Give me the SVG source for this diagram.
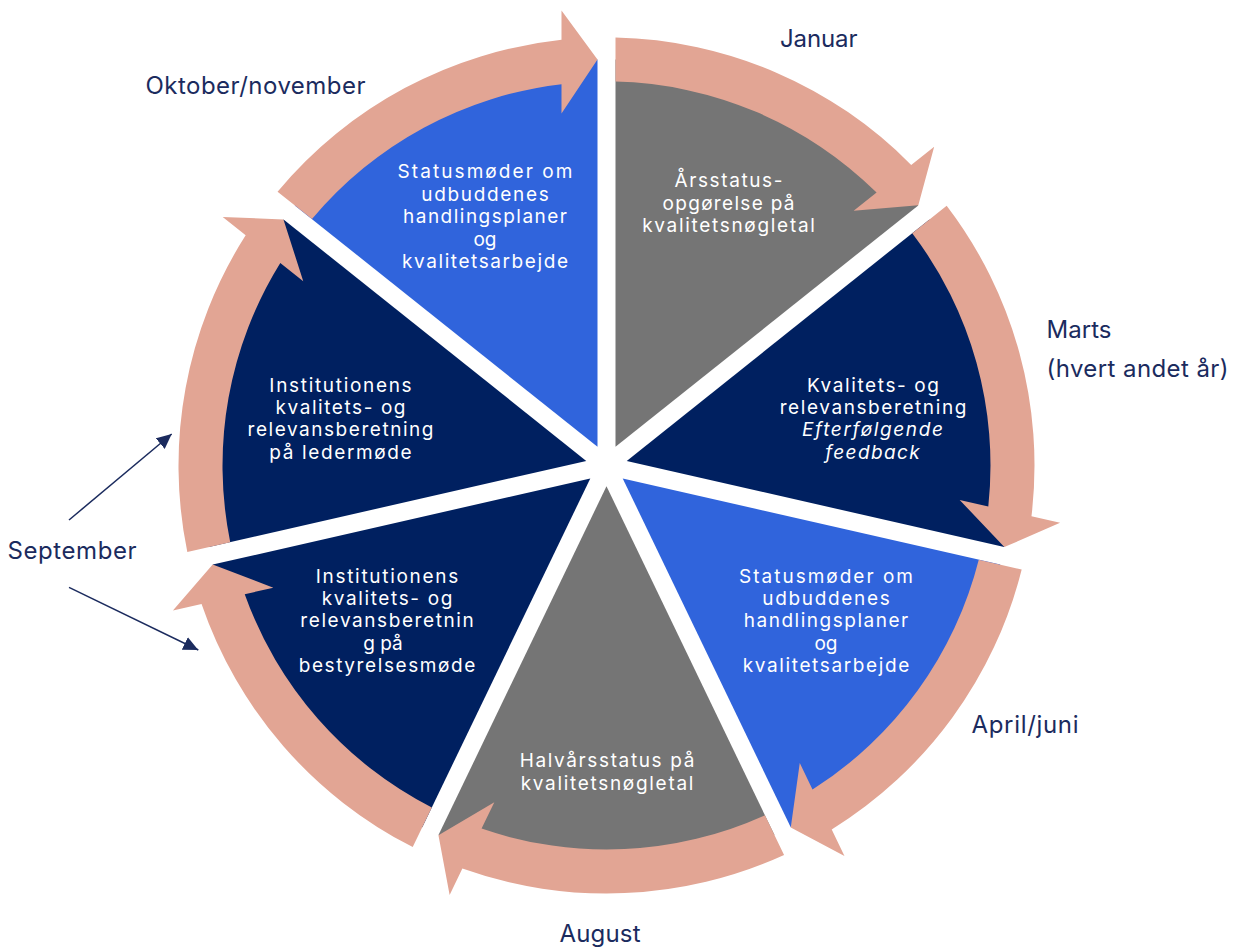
<svg xmlns="http://www.w3.org/2000/svg" width="1239" height="947" viewBox="0 0 1239 947">
<style>
.arrow{fill:#E2A594}
.gray{fill:#757575}
.navy{fill:#002060}
.blue{fill:#3064DC}
.in{font-family:Inter,"Noto Sans","DejaVu Sans",sans-serif;font-size:19px;fill:#ffffff;text-anchor:middle}
.it{font-style:italic}
.lbl{font-family:Inter,"Noto Sans","DejaVu Sans",sans-serif;font-size:24px;fill:#1B2B5E}
.conn{stroke:#1B2B5E;stroke-width:1.5;fill:none;marker-end:url(#ah)}
</style>
<defs>
<path id="wedge" d="M9,-18.69 L9,-405.9 A406,406 0 0 1 311.74,-260.11 Z"/>
<path id="arrow" d="M9,-427.905 A428,428 0 0 1 304.71,-300.56 L327.67,-318.87 L311.81,-260.18 L247.14,-254.65 L270.09,-272.95 A384,384 0 0 0 9,-383.89 Z"/>
<marker id="ah" markerUnits="userSpaceOnUse" markerWidth="15" markerHeight="14" refX="15" refY="7" orient="auto"><path d="M0,0 L15,7 L0,14 Z" fill="#1B2B5E"/></marker>
</defs>

<g id="node-aarsstatus">
<use href="#wedge" class="gray" transform="translate(606.5 465.5) rotate(0)"/>
<use href="#arrow" class="arrow" transform="translate(606.5 465.5) rotate(0)"/>
<text class="in"><tspan x="728.5" y="187" textLength="108">Årsstatus-</tspan><tspan x="728.5" y="209.7" textLength="132">opgørelse på</tspan><tspan x="728.5" y="232.3" textLength="172.7">kvalitetsnøgletal</tspan></text>
</g>

<g id="node-kvalitetsberetning">
<use href="#wedge" class="navy" transform="translate(606.5 465.5) rotate(51.428571)"/>
<use href="#arrow" class="arrow" transform="translate(606.5 465.5) rotate(51.428571)"/>
<text class="in"><tspan x="873" y="391.7" textLength="132">Kvalitets- og</tspan><tspan x="873" y="414" textLength="186.7">relevansberetning</tspan><tspan class="it" x="872.5" y="436.3" textLength="141">Efterfølgende</tspan><tspan class="it" x="872.5" y="458.7" textLength="94.3">feedback</tspan></text>
</g>

<g id="node-statusmoeder-2">
<use href="#wedge" class="blue" transform="translate(606.5 465.5) rotate(102.857143)"/>
<use href="#arrow" class="arrow" transform="translate(606.5 465.5) rotate(102.857143)"/>
<text class="in"><tspan x="826" y="582.7" textLength="174">Statusmøder om</tspan><tspan x="826" y="605" textLength="127.5">udbuddenes</tspan><tspan x="826" y="627.4" textLength="164.5">handlingsplaner</tspan><tspan x="826" y="649.8">og</tspan><tspan x="826" y="672.2" textLength="166.5">kvalitetsarbejde</tspan></text>
</g>

<g id="node-halvaarsstatus">
<use href="#wedge" class="gray" transform="translate(606.5 465.5) rotate(154.285714)"/>
<use href="#arrow" class="arrow" transform="translate(606.5 465.5) rotate(154.285714)"/>
<text class="in"><tspan x="607" y="767.3" textLength="174.7">Halvårsstatus på</tspan><tspan x="607" y="790" textLength="172.7">kvalitetsnøgletal</tspan></text>
</g>

<g id="node-bestyrelsesmoede">
<use href="#wedge" class="navy" transform="translate(606.5 465.5) rotate(205.714286)"/>
<use href="#arrow" class="arrow" transform="translate(606.5 465.5) rotate(205.714286)"/>
<text class="in"><tspan x="387" y="582.7" textLength="142.5">Institutionens</tspan><tspan x="387" y="605" textLength="130.7">kvalitets- og</tspan><tspan x="387" y="627.4" textLength="173.3">relevansberetnin</tspan><tspan x="383" y="649.8">g på</tspan><tspan x="387" y="672.2" textLength="176.7">bestyrelsesmøde</tspan></text>
</g>

<g id="node-ledermoede">
<use href="#wedge" class="navy" transform="translate(606.5 465.5) rotate(257.142857)"/>
<use href="#arrow" class="arrow" transform="translate(606.5 465.5) rotate(257.142857)"/>
<text class="in"><tspan x="340.5" y="391.7" textLength="142.3">Institutionens</tspan><tspan x="340.5" y="414" textLength="130">kvalitets- og</tspan><tspan x="340.5" y="436.3" textLength="186">relevansberetning</tspan><tspan x="340.5" y="458.7" textLength="142.3">på ledermøde</tspan></text>
</g>

<g id="node-statusmoeder-1">
<use href="#wedge" class="blue" transform="translate(606.5 465.5) rotate(308.571429)"/>
<use href="#arrow" class="arrow" transform="translate(606.5 465.5) rotate(308.571429)"/>
<text class="in"><tspan x="485" y="178.3" textLength="175">Statusmøder om</tspan><tspan x="485" y="200.7" textLength="127.5">udbuddenes</tspan><tspan x="485" y="223.1" textLength="164">handlingsplaner</tspan><tspan x="485" y="245.5">og</tspan><tspan x="485" y="267.9" textLength="166">kvalitetsarbejde</tspan></text>
</g>

<g id="labels">
<text class="lbl" x="780" y="47.3" textLength="77.5">Januar</text>
<text class="lbl" x="145.5" y="94" textLength="220">Oktober/november</text>
<text class="lbl" x="1046.5" y="338.3" textLength="65">Marts</text>
<text class="lbl" x="1046.5" y="377.3" textLength="182">(hvert andet år)</text>
<text class="lbl" x="971.5" y="733" textLength="107">April/juni</text>
<text class="lbl" x="559.5" y="941.7" textLength="81">August</text>
<text class="lbl" x="7.5" y="559.3" textLength="129">September</text>
</g>

<g id="connectors">
<line class="conn" x1="69" y1="520" x2="171.7" y2="434"/>
<line class="conn" x1="69" y1="587.3" x2="198.3" y2="650"/>
</g>
</svg>
